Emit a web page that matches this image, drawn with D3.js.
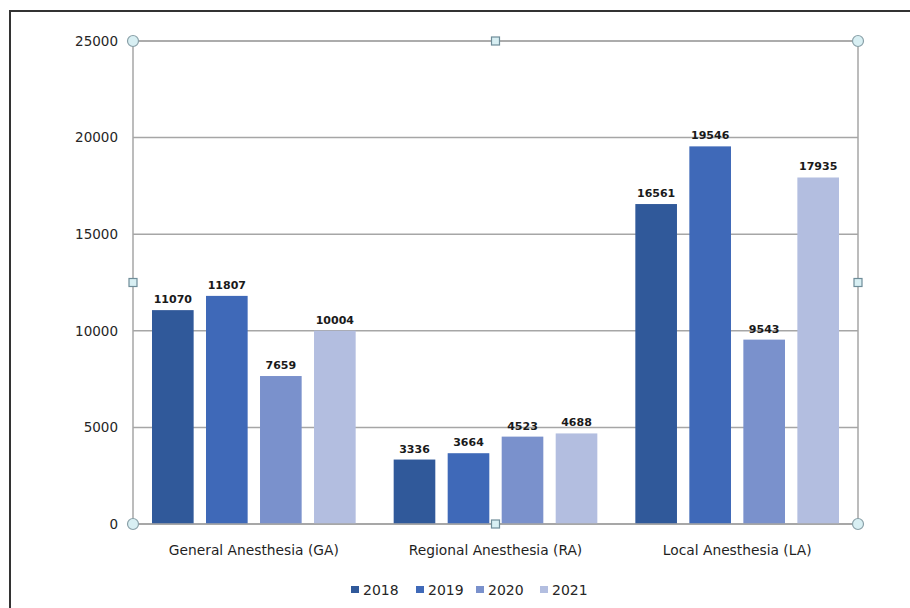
<!DOCTYPE html>
<html><head><meta charset="utf-8">
<script src="https://cdn.jsdelivr.net/npm/d3@7"></script>
<style>body{margin:0;background:#fff;}svg{display:block;}</style>
</head><body>
<svg id="c" width="910" height="608"></svg>
<script>
const categories = ["General Anesthesia (GA)", "Regional Anesthesia (RA)", "Local Anesthesia (LA)"];
const years = ["2018", "2019", "2020", "2021"];
const v2018 = [11070, 3336, 16561];
const v2019 = [11807, 3664, 19546];
const v2020 = [7659, 4523, 9543];
const v2021 = [10004, 4688, 17935];
const yTicks = [0, 5000, 10000, 15000, 20000, 25000];
const colors = ["#30599a", "#3f69b8", "#7a91cc", "#b3bee0"];

const series = [v2018, v2019, v2020, v2021];
const svg = d3.select("#c");
const L = 133, R = 858, T = 41, B = 524;

// outer border
svg.append("path").attr("d", "M10,620 V11 H912").attr("fill", "none").attr("stroke", "#333").attr("stroke-width", 2);

const y = d3.scaleLinear().domain([0, 25000]).range([B, T]);
const x0 = d3.scaleBand().domain(categories).range([L, R]);
const inner = 19;
const x1 = d3.scaleBand().domain(years).range([inner, x0.bandwidth() - inner]).paddingInner(0.229);

// gridlines
svg.append("g").selectAll("line").data(yTicks).join("line")
  .attr("x1", L).attr("x2", R).attr("y1", d => y(d)).attr("y2", d => y(d))
  .attr("stroke", "#a6a6a6").attr("stroke-width", 1.5);

// frame
svg.append("rect").attr("x", L).attr("y", T).attr("width", R - L).attr("height", B - T)
  .attr("fill", "none").attr("stroke", "#a6a6a6").attr("stroke-width", 1.5);

// y axis labels
const yAxis = d3.axisLeft(y).tickValues(yTicks).tickSize(0).tickPadding(15).tickFormat(d3.format("d"));
const ya = svg.append("g").attr("transform", `translate(${L},0)`).call(yAxis);
ya.select(".domain").remove();
ya.selectAll("text").attr("font-family", "DejaVu Sans, sans-serif").attr("font-size", 13.5).attr("fill", "#262626");

// bars
const groups = svg.append("g").selectAll("g").data(categories).join("g")
  .attr("transform", c => `translate(${x0(c)},0)`);
groups.each(function(c, ci) {
  const g = d3.select(this);
  years.forEach((yr, si) => {
    const v = series[si][ci];
    g.append("rect").attr("x", x1(yr)).attr("y", y(v)).attr("width", x1.bandwidth()).attr("height", y(0) - y(v))
      .attr("fill", colors[si]);
    g.append("text").attr("x", x1(yr) + x1.bandwidth() / 2).attr("y", y(v) - 7)
      .attr("text-anchor", "middle").attr("font-family", "DejaVu Sans, sans-serif").attr("font-weight", "bold")
      .attr("font-size", 11).attr("fill", "#1a1a1a").text(v);
  });
});

// bottom axis redraw over bars
svg.append("line").attr("x1", L).attr("x2", R).attr("y1", B).attr("y2", B).attr("stroke", "#a6a6a6").attr("stroke-width", 1.5);

// category labels
const xAxis = d3.axisBottom(x0).tickSize(0).tickPadding(21);
const xa = svg.append("g").attr("transform", `translate(0,${B})`).call(xAxis);
xa.select(".domain").remove();
xa.selectAll("text").attr("font-family", "DejaVu Sans, sans-serif").attr("font-size", 13.8).attr("fill", "#1f1f1f");

// handles
const circles = [[L, T], [R, T], [L, B], [R, B]];
svg.append("g").selectAll("circle").data(circles).join("circle")
  .attr("cx", d => d[0]).attr("cy", d => d[1]).attr("r", 5.5)
  .attr("fill", "#d8eff3").attr("stroke", "#8aa0a8").attr("stroke-width", 1.2);
const squares = [[(L + R) / 2, T], [(L + R) / 2, B], [L, (T + B) / 2], [R, (T + B) / 2]];
svg.append("g").selectAll("rect").data(squares).join("rect")
  .attr("x", d => d[0] - 4).attr("y", d => d[1] - 4).attr("width", 8).attr("height", 8)
  .attr("fill", "#d8eff3").attr("stroke", "#6f8d99").attr("stroke-width", 1.2);

// legend
const lx = [351, 416, 476, 540];
const lg = svg.append("g").selectAll("g").data(years).join("g")
  .attr("transform", (d, i) => `translate(${lx[i]},590)`);
lg.append("rect").attr("x", 0).attr("y", -4).attr("width", 8).attr("height", 7).attr("fill", (d, i) => colors[i]);
lg.append("text").attr("x", 12).attr("y", 5).attr("font-family", "DejaVu Sans, sans-serif").attr("font-size", 14)
  .attr("fill", "#262626").text(d => d);
</script>
</body></html>
